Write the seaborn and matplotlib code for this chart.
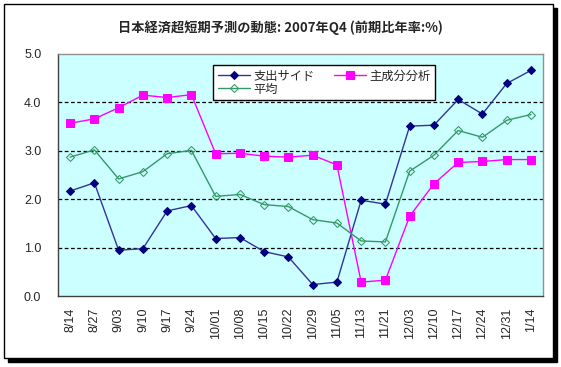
import pandas as pd
import matplotlib
matplotlib.use("Agg")
import matplotlib.pyplot as plt
import matplotlib.patches as mpatches
from matplotlib.ticker import FixedLocator
import seaborn as sns

# données
dates = ["8/14", "8/27", "9/03", "9/10", "9/17", "9/24", "10/01", "10/08", "10/15", "10/22",
         "10/29", "11/05", "11/13", "11/21", "12/03", "12/10", "12/17", "12/24", "12/31", "1/14"]
shishutsu = [2.17, 2.34, 0.95, 0.98, 1.76, 1.87, 1.19, 1.21, 0.92, 0.81,
             0.24, 0.29, 1.98, 1.90, 3.51, 3.53, 4.06, 3.76, 4.39, 4.66]
shuseibun = [3.57, 3.66, 3.89, 4.15, 4.10, 4.16, 2.94, 2.95, 2.89, 2.87,
             2.91, 2.71, 0.29, 0.33, 1.65, 2.32, 2.76, 2.78, 2.82, 2.82]
heikin = [2.87, 3.02, 2.42, 2.57, 2.94, 3.01, 2.06, 2.10, 1.89, 1.85,
          1.58, 1.51, 1.14, 1.12, 2.58, 2.91, 3.42, 3.28, 3.63, 3.75]
series_names = ["支出サイド", "主成分分析", "平均"]
yticks = [0.0, 1.0, 2.0, 3.0, 4.0, 5.0]

sns.set_theme(style="white")
plt.rcParams['font.family'] = ['Liberation Sans', 'Noto Sans CJK JP', 'DejaVu Sans']

fig = plt.figure(figsize=(5.61, 3.67), dpi=100)
fig.patch.set_facecolor("white")

# cadre avec ombre
fig.patches.append(mpatches.Rectangle((0.0071 + 0.0071, 0.0245 - 0.0109), 0.9786, 0.9646,
                                      transform=fig.transFigure, facecolor="black",
                                      edgecolor="black", zorder=-2))
fig.patches.append(mpatches.Rectangle((0.0071, 0.0245), 0.9786, 0.9646,
                                      transform=fig.transFigure, facecolor="white",
                                      edgecolor="black", linewidth=1.0, zorder=-1))

ax = fig.add_axes([0.1034, 0.193, 0.8646, 0.66])
ax.set_facecolor("#CCFFFF")

df = pd.DataFrame({"date": dates, series_names[0]: shishutsu,
                   series_names[1]: shuseibun, series_names[2]: heikin})

sns.lineplot(data=df, x="date", y=series_names[0], ax=ax, color="#333399", linewidth=1.0,
             marker="D", markersize=4.3, markerfacecolor="#000080", markeredgecolor="#000080",
             label=series_names[0], sort=False)
sns.lineplot(data=df, x="date", y=series_names[1], ax=ax, color="#FF00FF", linewidth=1.0,
             marker="s", markersize=5.5, markerfacecolor="#FF00FF", markeredgecolor="#FF00FF",
             label=series_names[1], sort=False)
sns.lineplot(data=df, x="date", y=series_names[2], ax=ax, color="#339966", linewidth=1.0,
             marker="D", markersize=4.3, markerfacecolor="none", markeredgecolor="#339966",
             label=series_names[2], sort=False)

ax.set_ylim(0, 5)
ax.set_xlim(-0.5, len(dates) - 0.5)
ax.set_yticks(yticks)
ax.set_yticklabels([f"{v:.1f}" for v in yticks], fontsize=9)
ax.set_xticks(range(len(dates)))
ax.set_xticklabels(dates, rotation=90, fontsize=9, va="top")
ax.xaxis.set_minor_locator(FixedLocator([i + 0.5 for i in range(len(dates) - 1)]))
ax.tick_params(axis="x", which="major", length=0, pad=8)
ax.tick_params(axis="x", which="minor", direction="in", length=3, color="#404040", width=1)
ax.tick_params(axis="y", length=0, pad=12)
ax.set_xlabel("")
ax.set_ylabel("")

for v in yticks[1:-1]:
    ax.axhline(v, color="black", linestyle=(0, (3, 2)), linewidth=0.9, zorder=1)

for side in ["top", "right"]:
    ax.spines[side].set_color("#909090")
for side in ["left", "bottom"]:
    ax.spines[side].set_color("#404040")
for s in ax.spines.values():
    s.set_linewidth(1.0)

# ordre de la légende : ligne 1 = 支出サイド, 主成分分析 ; ligne 2 = 平均
handles, labels = ax.get_legend_handles_labels()
order = [0, 2, 1]
leg = ax.legend([handles[i] for i in order], [labels[i] for i in order],
                loc="upper left", bbox_to_anchor=(0.313, 0.968), ncol=2,
                frameon=True, fancybox=False, framealpha=1, edgecolor="black",
                handlelength=2.6, handletextpad=0.3, columnspacing=1.6, labelspacing=0.0,
                borderpad=0.35, borderaxespad=0.3,
                prop={"family": ["Noto Sans CJK JP", "DejaVu Sans"], "size": 8.8})
leg.get_frame().set_linewidth(1.0)

fig.text(0.5, 0.924, "日本経済超短期予測の動態: 2007年Q4 (前期比年率:%)", ha="center", va="center",
         fontsize=9.5, fontweight="bold", family=["Noto Sans CJK JP", "DejaVu Sans"])

fig.savefig("out.png", dpi=100)
